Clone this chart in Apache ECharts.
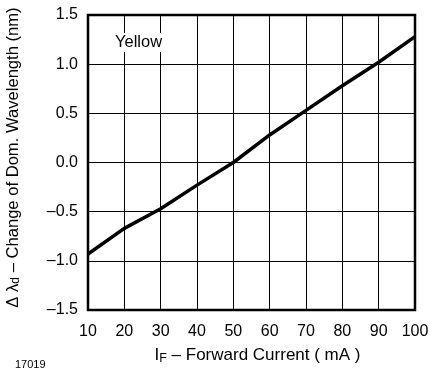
<!DOCTYPE html>
<html>
<head>
<meta charset="utf-8">
<script src="https://cdn.jsdelivr.net/npm/echarts@6/dist/echarts.min.js"></script>
<style>
  html, body { margin: 0; padding: 0; background: #fff; }
  #chart { width: 430px; height: 370px; }
</style>
</head>
<body>
<div id="chart"></div>
<script>
// Forward current (mA) and change of dominant wavelength (nm), yellow LED
const currentMA = [10, 20, 30, 40, 50, 60, 70, 80, 90, 100];
const deltaLambda = [-0.93, -0.67, -0.47, -0.23, 0.0, 0.28, 0.53, 0.78, 1.02, 1.28];
const seriesName = 'Yellow';
const figureId = '17019';

const FONT = '"Liberation Sans", Arial, Helvetica, sans-serif';
const fmtTick = v => (v < 0 ? '\u2013' : '') + Math.abs(v).toFixed(1);

const chart = echarts.init(document.getElementById('chart'), null, { renderer: 'canvas' });
chart.setOption({
  animation: false,
  backgroundColor: '#fff',
  textStyle: { fontFamily: FONT, color: '#000' },
  grid: {
    left: 88, right: 15, top: 15, bottom: 60,
    outerBoundsMode: 'none',
    containLabel: false,
    show: true, borderColor: '#000', borderWidth: 2.5, backgroundColor: 'transparent'
  },
  xAxis: {
    type: 'value', min: 10, max: 100, interval: 10,
    axisLine: { show: false },
    axisTick: { show: false },
    axisLabel: { fontSize: 16, color: '#000', fontFamily: FONT, margin: 14 },
    splitLine: { show: true, lineStyle: { color: '#000', width: 1 } },
    name: '{i|I}{s|F}{t| \u2013 Forward Current ( mA )}',
    nameLocation: 'middle', nameGap: 35, nameMoveOverlap: false,
    nameTextStyle: {
      padding: [0, 0, 0, 12],
      rich: {
        i: { fontSize: 17, fontFamily: FONT, color: '#000' },
        s: { fontSize: 12.5, fontFamily: FONT, color: '#000', verticalAlign: 'bottom', padding: [7, 0, 0, 0] },
        t: { fontSize: 17, fontFamily: FONT, color: '#000' }
      }
    }
  },
  yAxis: {
    type: 'value', min: -1.5, max: 1.5, interval: 0.5,
    axisLine: { show: false },
    axisTick: { show: false },
    axisLabel: { fontSize: 16, color: '#000', fontFamily: FONT, margin: 10, formatter: fmtTick },
    splitLine: { show: true, lineStyle: { color: '#000', width: 1 } },
    name: '{t|\u0394 \u03bb}{s|d}{t| \u2013 Change of Dom. Wavelength (nm)}',
    nameLocation: 'middle', nameGap: 66, nameRotate: 90, nameMoveOverlap: false,
    nameTextStyle: {
      padding: [0, 0, 0, 10],
      rich: {
        t: { fontSize: 16.6, fontFamily: FONT, color: '#000' },
        s: { fontSize: 12, fontFamily: FONT, color: '#000', padding: [6, 0, 0, 0] }
      }
    }
  },
  graphic: [
    {
      type: 'text', left: 112, top: 33, z: 10,
      style: {
        text: seriesName, font: '16.5px ' + FONT, fill: '#000',
        backgroundColor: '#fff', padding: [1, 3, 1, 3]
      }
    },
    {
      type: 'text', left: 15, top: 359,
      style: { text: figureId, font: '11px ' + FONT, fill: '#000' }
    }
  ],
  series: [{
    name: seriesName,
    type: 'line',
    data: currentMA.map((x, i) => [x, deltaLambda[i]]),
    showSymbol: false,
    lineStyle: { color: '#000', width: 3.5 },
    z: 5
  }]
});
</script>
</body>
</html>
